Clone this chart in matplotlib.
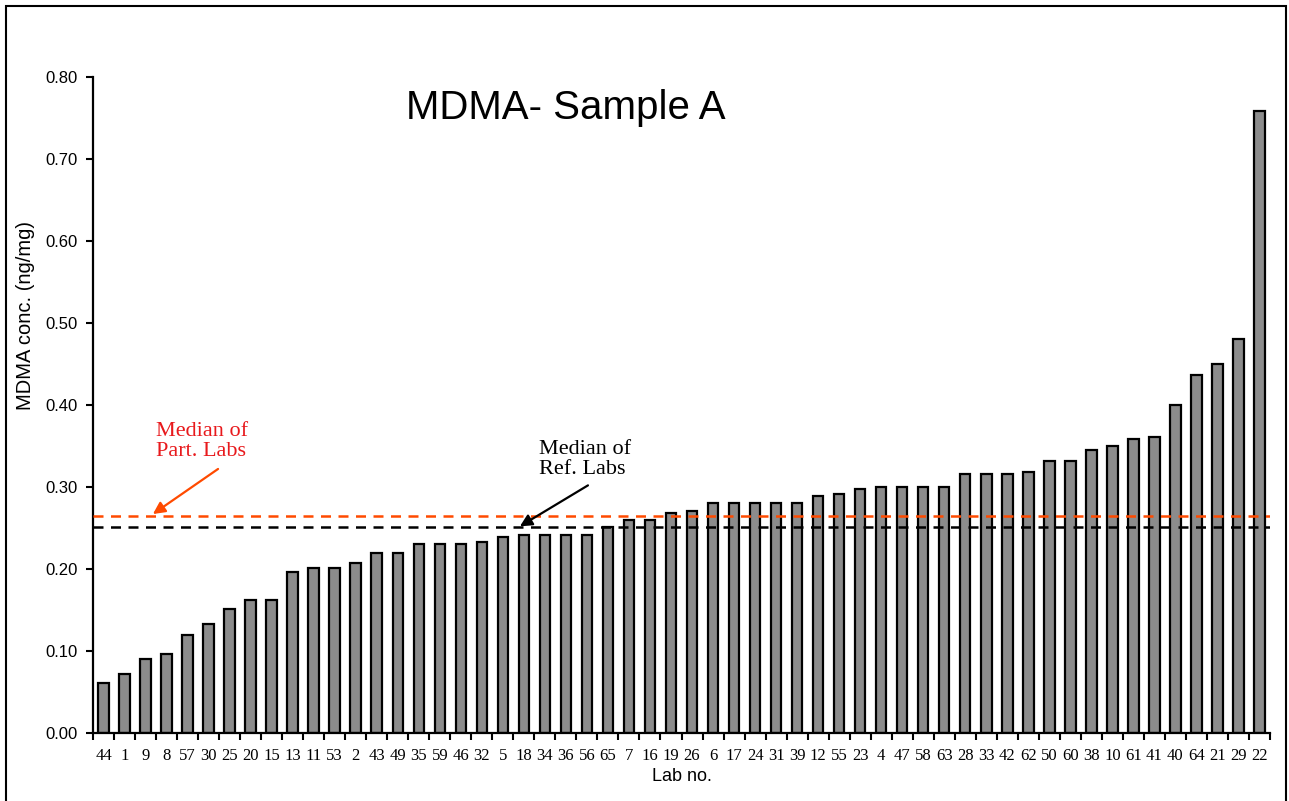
import numpy as np
import matplotlib
matplotlib.use("Agg")
import matplotlib.pyplot as plt
import matplotlib.patches as mpatches

# lab numbers, sorted by result
labs = ['44', '1', '9', '8', '57', '30', '25', '20', '15', '13',
        '11', '53', '2', '43', '49', '35', '59', '46', '32', '5',
        '18', '34', '36', '56', '65', '7', '16', '19', '26', '6',
        '17', '24', '31', '39', '12', '55', '23', '4', '47', '58',
        '63', '28', '33', '42', '62', '50', '60', '38', '10', '61',
        '41', '40', '64', '21', '29', '22']
conc = [0.061, 0.072, 0.090, 0.096, 0.120, 0.133, 0.151, 0.162, 0.162, 0.196,
        0.201, 0.201, 0.207, 0.220, 0.220, 0.230, 0.230, 0.230, 0.233, 0.239,
        0.241, 0.241, 0.241, 0.241, 0.251, 0.260, 0.260, 0.268, 0.271, 0.281,
        0.281, 0.281, 0.281, 0.281, 0.289, 0.292, 0.297, 0.300, 0.300, 0.300,
        0.300, 0.316, 0.316, 0.316, 0.318, 0.332, 0.332, 0.345, 0.350, 0.358,
        0.361, 0.400, 0.437, 0.450, 0.480, 0.759]
median_part = 0.265
median_ref = 0.251
y_ticks = [0.0, 0.1, 0.2, 0.3, 0.4, 0.5, 0.6, 0.7, 0.8]

sans = ['Liberation Sans', 'DejaVu Sans']
serif = ['Liberation Serif', 'DejaVu Serif']

fig = plt.figure(figsize=(12.89, 8.01), dpi=100)
fig.patches.append(mpatches.Rectangle((6 / 1289, -0.05), 1280 / 1289, 1.05 - 6 / 801,
                                      transform=fig.transFigure, fill=False,
                                      edgecolor='black', linewidth=1.5))
ax = fig.add_axes([93 / 1289, 1 - 733 / 801, (1270 - 93) / 1289, (733 - 77) / 801])

x = np.arange(len(labs))
ax.bar(x, conc, width=0.5, color='#8c8c8c', edgecolor='black', linewidth=1.6, zorder=2)

ax.axhline(median_part, color='#ff4a00', linestyle=(0, (4, 3)), linewidth=1.8, zorder=3)
ax.axhline(median_ref, color='black', linestyle=(0, (4, 3)), linewidth=1.8, zorder=3)

ax.set_xlim(-0.5, len(labs) - 0.5)
ax.set_ylim(0, 0.8)
ax.set_yticks(y_ticks)
ax.set_yticklabels([f'{v:.2f}' for v in y_ticks], fontfamily=sans, fontsize=12)
ax.set_xticks(x)
ax.set_xticklabels(labs, fontfamily=serif, fontsize=12)
ax.set_xticks(np.arange(len(labs) + 1) - 0.5, minor=True)
ax.tick_params(axis='x', which='major', length=0, pad=11)
ax.tick_params(axis='x', which='minor', length=5, width=1.5, direction='out')
ax.tick_params(axis='y', length=5, width=1.5, direction='out', pad=6)

for s in ['top', 'right']:
    ax.spines[s].set_visible(False)
for s in ['left', 'bottom']:
    ax.spines[s].set_linewidth(1.6)

ax.set_ylabel('MDMA conc. (ng/mg)', fontfamily=sans, fontsize=14.5)
ax.yaxis.set_label_coords(-0.049, 0.636)
ax.set_xlabel('Lab no.', fontfamily=sans, fontsize=13, labelpad=3)

ax.text(0.402, 0.952, 'MDMA- Sample A', transform=ax.transAxes, ha='center', va='center',
        fontfamily=sans, fontsize=29)

# median annotations
ax.text(2.5, 0.356, 'Median of\nPart. Labs', fontfamily=serif, fontsize=16,
        color='#e8191c', ha='left', va='center', linespacing=1.08)
ax.annotate('', xy=(2.35, median_part + 0.002), xytext=(5.45, 0.322),
            arrowprops=dict(arrowstyle='-|>', color='#ff4a00', lw=1.6, mutation_scale=18,
                            shrinkA=0, shrinkB=0))
ax.text(20.72, 0.333, 'Median of\nRef. Labs', fontfamily=serif, fontsize=16,
        color='black', ha='left', va='center', linespacing=1.08)
ax.annotate('', xy=(19.81, median_ref + 0.001), xytext=(23.05, 0.302),
            arrowprops=dict(arrowstyle='-|>', color='black', lw=1.6, mutation_scale=18,
                            shrinkA=0, shrinkB=0))

fig.savefig('out.png', dpi=100)
